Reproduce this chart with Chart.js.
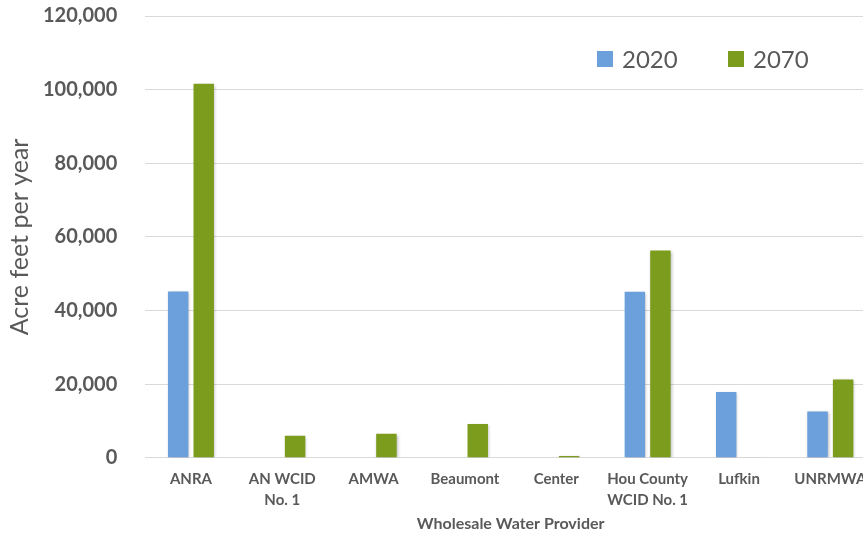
<!DOCTYPE html>
<html>
<head>
<meta charset="utf-8">
<script src="https://cdn.jsdelivr.net/npm/chart.js@4.4.1/dist/chart.umd.min.js"></script>
<style>
  body { margin: 0; background: #fff; }
  #wrap { width: 863px; height: 537px; overflow: hidden; }
  #box { width: 880px; height: 537px; }
</style>
</head>
<body>
<div id="wrap"><div id="box"><canvas id="mychart"></canvas></div></div>
<script>
const providers = ["ANRA", ["AN WCID", "No. 1"], "AMWA", "Beaumont", "Center", ["Hou County", "WCID No. 1"], "Lufkin", "UNRMWA"];
const values2020 = [45200, null, null, null, null, 45100, 17900, 12600];
const values2070 = [101600, 6000, 6500, 9200, 500, 56300, -400, 21300];
const yTicks = [0, 20000, 40000, 60000, 80000, 100000, 120000];

const textGrey = "#595959";
const blue = "#6CA0DC";
const green = "#7C9C1E";

// legend drawn inside the plot, top right
const innerLegend = {
  id: "innerLegend",
  afterDraw(chart) {
    const ctx = chart.ctx;
    ctx.save();
    ctx.font = "24px Lato";
    ctx.textBaseline = "middle";
    let x = 597;
    const y = 59;
    chart.data.datasets.forEach(ds => {
      ctx.fillStyle = ds.backgroundColor;
      ctx.fillRect(x, y - 8, 16, 16);
      ctx.fillStyle = textGrey;
      ctx.fillText(ds.label, x + 25, y + 1);
      x += 131;
    });
    ctx.restore();
  }
};

const barShadow = {
  id: "barShadow",
  beforeDatasetsDraw(chart) {
    const ctx = chart.ctx;
    ctx.save();
    ctx.shadowColor = "rgba(0,0,0,0.28)";
    ctx.shadowBlur = 3;
    ctx.shadowOffsetX = 1;
    ctx.shadowOffsetY = 1;
  },
  afterDatasetsDraw(chart) {
    chart.ctx.restore();
  }
};

new Chart("mychart", {
  type: "bar",
  data: {
    labels: providers,
    datasets: [
      { label: "2020", data: values2020, backgroundColor: blue },
      { label: "2070", data: values2070, backgroundColor: green }
    ]
  },
  options: {
    responsive: true,
    maintainAspectRatio: false,
    animation: false,
    categoryPercentage: 0.56,
    barPercentage: 0.8,
    layout: { padding: { left: 3, right: 4, top: 1, bottom: 4 } },
    plugins: {
      legend: { display: false },
      tooltip: { enabled: false }
    },
    scales: {
      x: {
        grid: { display: false, drawTicks: false },
        border: { display: false },
        afterFit(axis) {
          axis.height -= 11;
        },
        ticks: {
          color: textGrey,
          font: { family: "Lato", size: 15, weight: "bold", lineHeight: 1.4 },
          padding: 11,
          maxRotation: 0,
          autoSkip: false
        },
        title: {
          display: true,
          text: "Wholesale Water Provider",
          color: textGrey,
          font: { family: "Lato", size: 16, weight: "bold" },
          padding: { top: 3, bottom: 0 }
        }
      },
      y: {
        min: 0,
        max: 120000,
        afterBuildTicks(axis) {
          axis.ticks = yTicks.map(v => ({ value: v }));
        },
        grid: { color: "#D9D9D9", drawTicks: true, tickLength: 24, tickColor: "rgba(0,0,0,0)" },
        border: { display: false },
        ticks: {
          color: textGrey,
          font: { family: "Lato", size: 20, weight: "bold" },
          padding: 4,
          callback: v => v.toLocaleString("en-US")
        },
        title: {
          display: true,
          text: "Acre feet per year",
          color: textGrey,
          font: { family: "Lato", size: 25 },
          padding: { top: 2, bottom: 4 }
        }
      }
    }
  },
  plugins: [barShadow, innerLegend]
});
</script>
</body>
</html>
